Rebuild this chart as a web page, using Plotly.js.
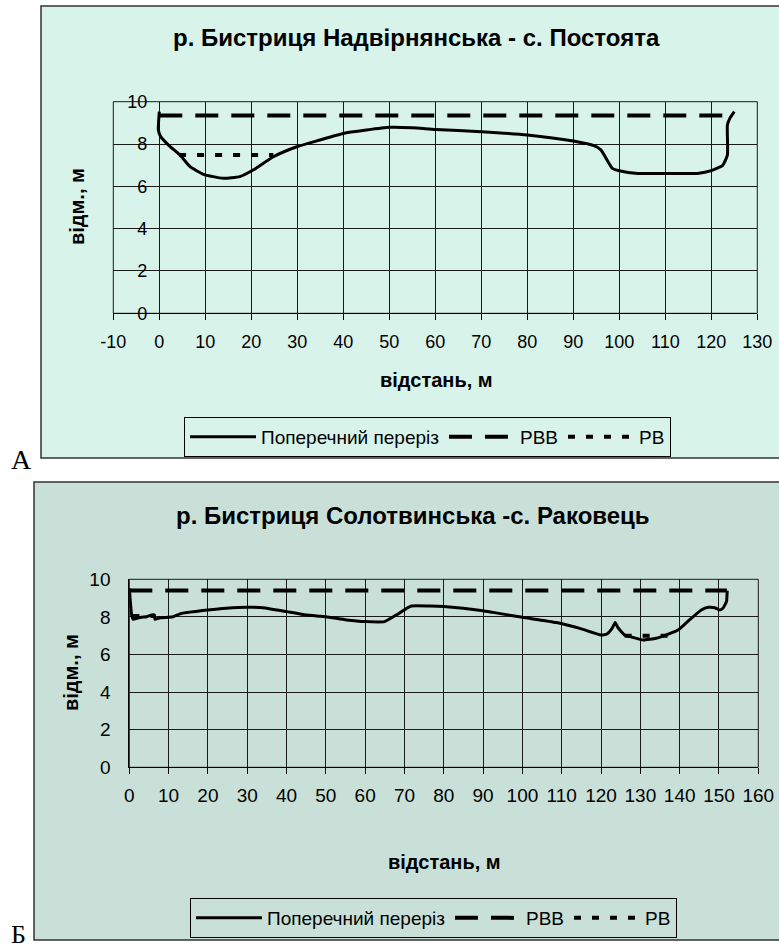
<!DOCTYPE html>
<html>
<head>
<meta charset="utf-8">
<script src="https://cdn.plot.ly/plotly-3.0.1.min.js"></script>
<style>html,body{margin:0;padding:0;background:#fff;}#chart{width:779px;height:952px;}</style>
</head>
<body>
<div id="chart"></div>
<script>
// ---------- Data: chart А ----------
const titleA = "р. Бистриця Надвірнянська - с. Постоята";
const sectionA_x = [0, -0.2, 0.3, 2, 4.5, 6.7, 9.6, 13.9, 17.5, 20.4, 24.8, 29.9, 34.9, 40, 45, 50, 55, 60, 70, 80, 90, 94.5, 96, 98.5, 100, 104, 110, 117, 120, 122.5, 123.5, 123.5, 124, 125];
const sectionA_y = [9.53, 8.66, 8.35, 7.95, 7.48, 6.93, 6.57, 6.38, 6.46, 6.77, 7.4, 7.87, 8.19, 8.5, 8.66, 8.79, 8.77, 8.69, 8.58, 8.43, 8.14, 7.92, 7.72, 6.85, 6.74, 6.61, 6.61, 6.61, 6.74, 7.0, 7.48, 8.9, 9.2, 9.53];
const rvvA_x = [0, 125];
const rvvA_y = [9.35, 9.35];
const rvA_x = [4.3, 24.8];
const rvA_y = [7.48, 7.48];
const xTickValsA = [-10, 0, 10, 20, 30, 40, 50, 60, 70, 80, 90, 100, 110, 120, 130];
const xTickTextA = ["-10", "0", "10", "20", "30", "40", "50", "60", "70", "80", "90", "100", "110", "120", "130"];

// ---------- Data: chart Б ----------
const titleB = "р. Бистриця Солотвинська -с. Раковець";
const sectionB_x = [0, 0.3, 0.6, 1.0, 1.9, 3.1, 4.4, 5.7, 6.4, 6.5, 7.8, 9.9, 11.2, 13.3, 20, 24.7, 30, 34, 40, 45, 50, 55.2, 60, 64.9, 67.9, 71.7, 76.4, 80, 90, 92.5, 100, 108.6, 114.6, 120, 121.5, 122.8, 123.6, 124.3, 126, 128.1, 130.7, 134, 136.6, 139.6, 142.5, 145.5, 147.3, 148.9, 150.2, 151, 151.9, 152.1];
const sectionB_y = [9.52, 8.72, 8.1, 7.87, 7.93, 7.98, 8.01, 8.1, 8.1, 7.87, 7.96, 7.98, 8.01, 8.19, 8.37, 8.46, 8.51, 8.49, 8.28, 8.1, 8.01, 7.84, 7.75, 7.75, 8.1, 8.58, 8.58, 8.55, 8.33, 8.24, 7.98, 7.7, 7.39, 7.04, 7.09, 7.39, 7.7, 7.43, 7.04, 6.91, 6.77, 6.86, 7.04, 7.3, 7.84, 8.37, 8.51, 8.49, 8.37, 8.46, 8.81, 9.4];
const rvvB_x = [0, 152];
const rvvB_y = [9.4, 9.4];
const rvB_x = [0.8, 6.5, null, 126, 137];
const rvB_y = [8.05, 8.05, null, 7.0, 7.0];

const names = ["Поперечний переріз", "РВВ", "РВ"];
const xTitle = "відстань, м";
const yTitle = "відм., м";

// ---------- Layout helpers (pixel -> paper) ----------
const W = 779, H = 952;
const X = p => p / W;
const Y = p => 1 - p / H;

const bgA = "#D8F3EA";
const bgB = "#C9E0D8";
const FONT = "Liberation Sans, Arial, sans-serif";

const solid = {color: "#000", width: 3};
const dashL = {color: "#000", width: 4, dash: "23px,13px"};
const dotL = {color: "#000", width: 4, dash: "7px,11px"};

const traces = [
  {x: sectionA_x, y: sectionA_y, name: names[0], mode: "lines", line: Object.assign({shape: "spline", smoothing: 0.5}, solid), xaxis: "x", yaxis: "y", legend: "legend"},
  {x: rvvA_x, y: rvvA_y, name: names[1], mode: "lines", line: dashL, xaxis: "x", yaxis: "y", legend: "legend"},
  {x: rvA_x, y: rvA_y, name: names[2], mode: "lines", line: dotL, xaxis: "x", yaxis: "y", legend: "legend"},
  {x: sectionB_x, y: sectionB_y, name: names[0], mode: "lines", line: Object.assign({shape: "spline", smoothing: 0.4}, solid), xaxis: "x2", yaxis: "y2", legend: "legend2"},
  {x: rvvB_x, y: rvvB_y, name: names[1], mode: "lines", line: dashL, xaxis: "x2", yaxis: "y2", legend: "legend2"},
  {x: rvB_x, y: rvB_y, name: names[2], mode: "lines", line: dotL, xaxis: "x2", yaxis: "y2", legend: "legend2", connectgaps: false}
];

const axisCommon = {
  showgrid: true, gridcolor: "#1a1a1a", gridwidth: 1, zeroline: false, fixedrange: true
};

// chart A geometry
const A = {xl: 113.3, xr: 757.3, yt: 101.7, yb: 313.3, x0px: 159.3};
// chart B geometry
const B = {xl: 129.3, xr: 758.3, yt: 579.3, yb: 767.3};

const legendCommon = {
  orientation: "h", xanchor: "left", yanchor: "top",
  bordercolor: "#000", borderwidth: 1, itemwidth: 66, tracegroupgap: 0,
  font: {family: FONT, size: 19, color: "#000"}
};

const layout = {
  width: W, height: H,
  margin: {l: 0, r: 0, t: 0, b: 0, pad: 0},
  paper_bgcolor: "#fff",
  plot_bgcolor: "rgba(0,0,0,0)",
  font: {family: FONT, color: "#000"},
  showlegend: true,
  xaxis: Object.assign({}, axisCommon, {
    domain: [X(A.xl), X(A.xr)], range: [-10, 130],
    tickmode: "array", tickvals: xTickValsA, ticktext: xTickTextA,
    anchor: "y", showline: true, linecolor: "#000", linewidth: 1,
    ticks: "outside", ticklen: 6, tickcolor: "#000", ticklabelstandoff: 6,
    tickfont: {family: FONT, size: 18, color: "#000"}
  }),
  yaxis: Object.assign({}, axisCommon, {
    domain: [Y(A.yb), Y(A.yt)], range: [0, 10], dtick: 2,
    anchor: "free", position: X(A.x0px),
    ticks: "", showline: false, ticklabelstandoff: 12,
    tickfont: {family: FONT, size: 18, color: "#000"}
  }),
  xaxis2: Object.assign({}, axisCommon, {
    domain: [X(B.xl), X(B.xr)], range: [0, 160], dtick: 10,
    anchor: "y2", showline: true, linecolor: "#000", linewidth: 1,
    ticks: "outside", ticklen: 6, tickcolor: "#000", ticklabelstandoff: 5,
    tickfont: {family: FONT, size: 19, color: "#000"}
  }),
  yaxis2: Object.assign({}, axisCommon, {
    domain: [Y(B.yb), Y(B.yt)], range: [0, 10], dtick: 2,
    anchor: "x2", ticks: "", showline: true, linecolor: "#000", ticklabelstandoff: 14,
    tickfont: {family: FONT, size: 19, color: "#000"}
  }),
  legend: Object.assign({}, legendCommon, {x: X(184), y: Y(417), bgcolor: bgA}),
  legend2: Object.assign({}, legendCommon, {x: X(190), y: Y(898), bgcolor: bgB}),
  shapes: [
    {type: "rect", xref: "paper", yref: "paper", x0: X(41), x1: X(782), y0: Y(458), y1: Y(6),
     fillcolor: bgA, line: {color: "#333", width: 1.5}, layer: "below"},
    {type: "rect", xref: "paper", yref: "paper", x0: X(34), x1: X(782), y0: Y(940), y1: Y(482),
     fillcolor: bgB, line: {color: "#333", width: 1.5}, layer: "below"},
    {type: "rect", xref: "x domain", yref: "y domain", x0: 0, x1: 1, y0: 0, y1: 1,
     line: {color: "#1a1a1a", width: 1}, layer: "below"},
    {type: "rect", xref: "x2 domain", yref: "y2 domain", x0: 0, x1: 1, y0: 0, y1: 1,
     line: {color: "#1a1a1a", width: 1}, layer: "below"}
  ],
  annotations: [
    {text: "<b>" + titleA + "</b>", xref: "paper", yref: "paper", x: X(416), y: Y(38), showarrow: false,
     xanchor: "center", yanchor: "middle", font: {family: FONT, size: 24}},
    {text: "<b>" + xTitle + "</b>", xref: "paper", yref: "paper", x: X(436), y: Y(380), showarrow: false,
     xanchor: "center", yanchor: "middle", font: {family: FONT, size: 20}},
    {text: "<b>" + yTitle + "</b>", xref: "paper", yref: "paper", x: X(77), y: Y(207), showarrow: false,
     xanchor: "center", yanchor: "middle", textangle: -90, font: {family: FONT, size: 20}},
    {text: "А", xref: "paper", yref: "paper", x: X(9), y: Y(459), showarrow: false,
     xanchor: "left", yanchor: "middle", font: {family: "Liberation Serif, Times New Roman, serif", size: 28}},
    {text: "<b>" + titleB + "</b>", xref: "paper", yref: "paper", x: X(413), y: Y(515), showarrow: false,
     xanchor: "center", yanchor: "middle", font: {family: FONT, size: 24}},
    {text: "<b>" + xTitle + "</b>", xref: "paper", yref: "paper", x: X(444), y: Y(862), showarrow: false,
     xanchor: "center", yanchor: "middle", font: {family: FONT, size: 20}},
    {text: "<b>" + yTitle + "</b>", xref: "paper", yref: "paper", x: X(71), y: Y(673), showarrow: false,
     xanchor: "center", yanchor: "middle", textangle: -90, font: {family: FONT, size: 20}},
    {text: "Б", xref: "paper", yref: "paper", x: X(9), y: Y(951), showarrow: false,
     xanchor: "left", yanchor: "bottom", font: {family: "Liberation Serif, Times New Roman, serif", size: 26}}
  ]
};

Plotly.newPlot("chart", traces, layout, {displayModeBar: false, staticPlot: true});
</script>
</body>
</html>
